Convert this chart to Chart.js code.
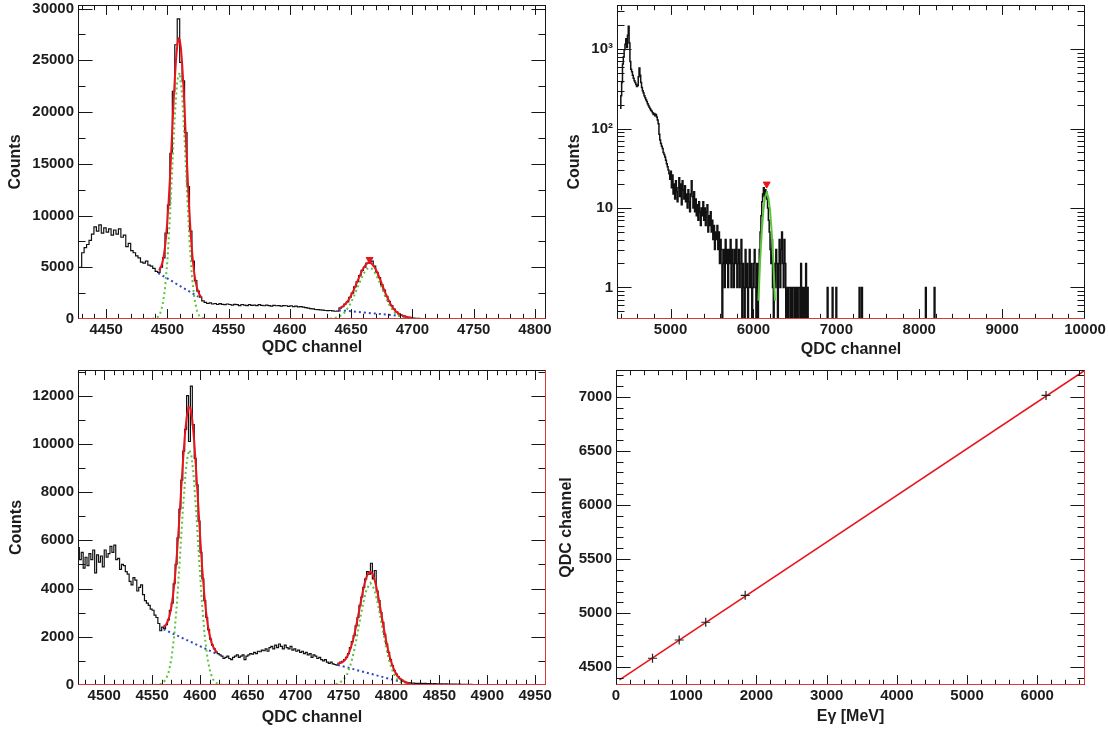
<!DOCTYPE html>
<html><head><meta charset="utf-8">
<script src="https://cdn.jsdelivr.net/npm/chart.js@4.4.1/dist/chart.umd.min.js"></script>
<style>
html,body{margin:0;padding:0;background:#fff;}
#wrap{position:relative;width:1108px;height:731px;overflow:hidden;background:#fff;}
canvas{position:absolute;}
</style></head><body>
<div id="wrap">
<canvas id="c1" width="554" height="360" style="left:0;top:0"></canvas>
<canvas id="c2" width="554" height="360" style="left:554px;top:0"></canvas>
<canvas id="c3" width="554" height="371" style="left:0;top:360px"></canvas>
<canvas id="c4" width="554" height="371" style="left:554px;top:360px"></canvas>
</div>
<script>
// ---------------- Panel 1 (top left) ----------------
const p1Start = 4428, p1BinWidth = 2;
const p1Counts = [
5000,6400,6900,7200,7600,8200,8900,8500,9100,8300,
8800,8400,8700,8100,8600,8200,8700,7900,8100,7000,
7300,6600,6400,6100,5900,5500,5400,5600,5200,5100,
4900,4600,4500,5000,5900,8300,11000,16000,22000,26500,
29000,24800,23000,18000,12800,8500,5600,3700,2700,2100,
1750,1600,1500,1550,1450,1500,1400,1480,1420,1380,
1450,1400,1350,1420,1380,1300,1400,1350,1300,1380,
1320,1350,1300,1380,1320,1280,1350,1300,1250,1320,
1280,1300,1250,1300,1280,1220,1280,1200,1250,1180,
1200,1150,1100,1050,1000,980,920,900,880,850,
820,800,820,780,750,760,1050,1200,1450,1650,
2100,2500,3100,3600,4200,4700,5000,5400,5500,5600,
5100,4500,4000,3300,2800,2200,1700,1300,950,700,
500,380,280,210,160,120,90,70,55,45,
35,
30,28,25,22,24,20,18,20,17,15,16,14,15,12,14,12,11,13,10,12,
10,11,9,10,8,9,10,8,9,7,8,9,7,8,6,7,8,6,7,5,6,7,5,6,5,4,5,6,4,5];
const p1FitAChannel = [4493,4494,4495,4496,4497,4498,4499,4500,4501,4502,4503,4504,4505,4506,4507,4508,4509,4510,4511,4512,4513,4514,4515,4516,4517,4518,4519,4520,4521,4522,4523,4524,4525,4526,4527,4528];
const p1FitA = [4720,4850,5100,5500,6100,6950,8100,9580,11400,13500,15900,18400,20900,23150,25050,26400,27100,27000,26200,24700,22650,20250,17600,15000,12450,10200,8250,6650,5350,4350,3600,3070,2680,2400,2200,2060];
const p1FitBChannel = [4640,4642,4644,4646,4648,4650,4652,4654,4656,4658,4660,4662,4664,4666,4668,4670,4672,4674,4676,4678,4680,4682,4684,4686,4688,4690,4692,4694,4696,4698,4700];
const p1FitB = [1020,1130,1300,1540,1870,2290,2790,3340,3910,4460,4930,5270,5440,5420,5200,4810,4300,3700,3080,2480,1940,1470,1100,800,590,430,320,240,180,140,100];
const p1GausAChannel = [4455,4488,4490,4492,4494,4496,4498,4500,4502,4504,4506,4508,4510,4512,4514,4516,4518,4520,4522,4524,4526,4528,4530,4532,4600];
const p1GausA = [0,15,55,180,520,1310,2900,5670,9750,14760,19660,23060,23800,21630,17300,12190,7550,4120,1980,840,310,100,30,7,0];
const p1GausBChannel = [4600,4630,4635,4640,4644,4648,4652,4656,4660,4663,4665,4667,4670,4674,4678,4682,4686,4690,4695,4700,4760];
const p1GausB = [0,11,55,217,546,1167,2127,3302,4368,4852,4950,4852,4368,3302,2127,1167,546,217,55,11,0];
const p1BkgAChannel = [4492.5, 4525], p1BkgA = [4440, 2160];
const p1BkgBChannel = [4640, 4695], p1BkgB = [850, 250];
const p1PeakChannel = [4665], p1PeakCounts = [5750];
const p1XTicks = [4450,4500,4550,4600,4650,4700,4750,4800];
const p1YTicks = [0,5000,10000,15000,20000,25000,30000];

// ---------------- Panel 2 (top right, log) ----------------
const p2Start = 4390, p2BinWidth = 10;
const p2Counts = [
180,260,380,650,800,980,1150,1350,1050,1500,
1950,1200,700,560,520,470,430,400,380,360,
340,350,450,580,470,380,330,300,280,260,
245,230,220,205,195,185,178,170,165,158,
150,155,145,150,140,128,115,85,72,65,
60,56,50,47,44,40,36,33,30,27,
23,29,18,26,15,20,13,22,16,12,
18,24,14,20,11,22,17,13,19,12,
15,10,17,12,9,15,22,14,10,16,
9,13,8,11,7,12,9,6,10,8,
12,7,10,6,9,11,5,8,6,9,
5,7,4,6,3,5,4,6,3,5,
2,4,3,0,2,3,1,4,2,3,
1,3,2,4,1,3,2,1,3,2,
4,1,2,3,1,2,4,0,2,1,
0,3,1,2,0,1,3,1,2,0,
1,2,3,1,0,2,0,1,3,5,
8,12,15,18,14,17,16,13,10,7,
5,3,2,4,1,0,2,1,3,2,
0,2,4,1,3,5,2,1,4,2,
0,1,0,1,1,0,1,0,1,1,
0,1,0,1,0,1,1,0,2,0,
1,0,1,0,2,0,1,0];
const p2SparseChannel = [6890,6900,6950,6960,6995,7005,7275,7285,7305,7315,8075,8085,8180,8190];
const p2SparseCounts  = [1,0,1,0,1,0,1,0,1,0,1,0,1,0];
const p2FitChannel = [6060,6080,6100,6120,6140,6160,6180,6200,6220,6240,6260];
const p2Fit = [0.68,2.1,5.0,9.4,13.7,15.5,13.7,9.4,5.0,2.1,0.68];
const p2PeakChannel = [6160], p2PeakCounts = [20];
const p2XTicks = [5000,6000,7000,8000,9000,10000];
const p2YTicks = [1,10,100,1000];
const p2YTickLabels = ['1','10','10\u00B2','10\u00B3'];

// ---------------- Panel 3 (bottom left) ----------------
const p3Start = 4472, p3BinWidth = 2;
const p3Counts = [
5700,5200,5500,4850,5300,4950,5450,5200,5600,4650,
5400,5100,5350,4900,5600,5300,5450,5750,5500,5800,
5200,5250,4800,5000,4950,4700,4600,4300,4150,4450,
4350,3900,4050,4150,3750,3500,3400,3300,3150,3100,
2900,2800,2550,2250,2400,2350,2500,2700,3100,3400,
4200,5000,6100,7300,8500,9700,10600,12000,10100,12400,
10800,9400,8300,6800,5500,4400,3500,2800,2300,1900,
1650,1500,1350,1300,1250,1200,1100,1150,1200,1100,
1050,1150,1200,1250,1150,1200,1250,1050,1200,1250,
1300,1280,1350,1300,1400,1380,1450,1420,1500,1400,
1550,1600,1500,1650,1550,1700,1600,1500,1650,1550,
1500,1600,1450,1500,1400,1450,1350,1400,1300,1350,
1250,1300,1150,1250,1200,1100,1150,1050,1000,1050,
950,900,950,880,850,820,900,950,980,1050,
1150,1300,1550,1800,2050,2450,2800,3300,3650,4050,
4400,4700,4600,5050,4400,4750,3900,3500,3000,2600,
2100,1700,1350,1050,800,600,450,350,260,200,
150,120,100,85,80,75,70,70,65,70,
60,65,55,60,55,50,55,50,45,50,
45,40,45,40,40,35,40,35,30,35,
30,25,30,25,20,25,20,20,15,20,
15,15,10,15,10,10,10,8,10,8,
6,8,6,5,6,5,5,4,5,4,
3,4,3,3,2,3,2,2,2,1,
2,1,1,1,1];
const p3FitAChannel = [4562,4564,4566,4568,4570,4572,4574,4576,4578,4580,4582,4584,4586,4588,4590,4592,4594,4596,4598,4600,4602,4604,4606,4608,4610,4612,4614,4616,4618];
const p3FitA = [2420,2480,2610,2840,3210,3770,4520,5490,6640,7890,9150,10260,11090,11530,11490,10980,10080,8890,7570,6240,5010,3970,3140,2520,2070,1770,1570,1430,1340];
const p3FitBChannel = [4744,4746,4748,4750,4752,4754,4756,4758,4760,4762,4764,4766,4768,4770,4772,4774,4776,4778,4780,4782,4784,4786,4788,4790,4792,4794,4796,4798,4800,4802,4804,4806,4808,4810,4812,4814,4816,4818,4820];
const p3FitB = [880,900,930,985,1070,1200,1380,1620,1900,2250,2640,3050,3480,3880,4230,4500,4660,4700,4620,4410,4100,3710,3260,2800,2340,1910,1530,1190,920,700,530,390,300,220,170,120,90,60,35];
const p3GausAChannel = [4511,4555,4560,4564,4567,4570,4573,4576,4579,4582,4585,4587,4589,4591,4593,4596,4599,4602,4605,4608,4611,4614,4618,4623,4700];
const p3GausA = [0,8,54,206,491,1050,2007,3435,5259,7206,8833,9512,9750,9512,8833,7206,5259,3435,2007,1050,491,206,54,8,0];
const p3GausBChannel = [4700,4735,4740,4745,4750,4754,4758,4762,4766,4770,4774,4778,4782,4786,4790,4794,4798,4802,4806,4811,4816,4821,4895];
const p3GausB = [0,4,18,69,218,479,932,1607,2455,3320,3982,4230,3982,3320,2455,1607,932,479,218,69,18,4,0];
const p3BkgAChannel = [4562, 4616], p3BkgA = [2310, 1315];
const p3BkgBChannel = [4744, 4809], p3BkgB = [830, 138];
const p3XTicks = [4500,4550,4600,4650,4700,4750,4800,4850,4900,4950];
const p3YTicks = [0,2000,4000,6000,8000,10000,12000];

// ---------------- Panel 4 (bottom right, calibration) ----------------
const p4Energy = [520, 900, 1278, 1840, 6125];
const p4Channel = [4583, 4752, 4916, 5165, 7012];
const p4LineEnergy = [50, 6680], p4LineChannel = [4383, 7245];
const p4XTicks = [0,1000,2000,3000,4000,5000,6000];
const p4YTicks = [4500,5000,5500,6000,6500,7000];

// ---------------- helpers ----------------
const FONT = "'Liberation Sans', Arial, Helvetica, sans-serif";
const TXT = '#1c1c1c';
const RED = '#e8161c', GREEN = '#5cc43c', BLUE = '#2f47c4';
const pairs = (xs, ys) => xs.map((x, i) => ({x, y: ys[i]}));
const histData = (start, w, counts, logMode) => {
  const f = c => logMode ? (c > 0 ? c : 0.1) : c;
  const pts = counts.map((c, i) => ({x: start + i * w, y: f(c)}));
  pts.push({x: start + counts.length * w, y: f(counts[counts.length - 1])});
  return pts;
};
const steps = (from, to, step, skip) => {
  const out = [];
  for (let v = from; v <= to + 1e-9; v += step) { const r = Math.round(v * 1000) / 1000; if (!skip.includes(r)) out.push(r); }
  return out;
};
const histSet = (data, w) => ({data, showLine: true, stepped: true, borderColor: '#111', borderWidth: w || 1.2, pointRadius: 0, order: 5});
const lineSet = (data, color, width, dash, order) => ({data, showLine: true, borderColor: color, borderWidth: width, borderDash: dash || [], pointRadius: 0, order});
const peakSet = (data) => ({data, showLine: false, pointStyle: 'triangle', rotation: 180, pointRadius: 4, backgroundColor: RED, borderColor: RED, borderWidth: 1, order: 0});

const rootFrame = {
  id: 'rootFrame',
  afterDraw(chart, args, o) {
    const {ctx, chartArea: a} = chart;
    const xs = chart.scales.x, ys = chart.scales.y;
    const L = Math.round(a.left) + 0.5, R = Math.round(a.right) - 0.5, T = Math.round(a.top) + 0.5, B = Math.round(a.bottom) - 0.5;
    ctx.save();
    ctx.strokeStyle = '#161616'; ctx.lineWidth = 1;
    ctx.strokeRect(L, T, R - L, B - T);
    const xMaj = (a.bottom - a.top) * 0.03, yMaj = (a.right - a.left) * 0.03;
    ctx.beginPath();
    const vx = (vals, len) => vals.forEach(v => {
      if (v <= xs.min || v >= xs.max) return;
      const p = Math.round(xs.getPixelForValue(v)) + 0.5;
      ctx.moveTo(p, B); ctx.lineTo(p, B - len); ctx.moveTo(p, T); ctx.lineTo(p, T + len);
    });
    const vy = (vals, len) => vals.forEach(v => {
      if (v <= ys.min || v >= ys.max) return;
      const p = Math.round(ys.getPixelForValue(v)) + 0.5;
      ctx.moveTo(L, p); ctx.lineTo(L + len, p); ctx.moveTo(R, p); ctx.lineTo(R - len, p);
    });
    vx(o.xMajor, xMaj); vx(o.xMinor, xMaj / 2); vy(o.yMajor, yMaj); vy(o.yMinor, yMaj / 2);
    ctx.stroke();
    if (o.red && o.red.length) {
      ctx.strokeStyle = '#d83a3a'; ctx.beginPath();
      o.red.forEach(s => {
        if (s === 'bottom') { ctx.moveTo(L, B); ctx.lineTo(R, B); }
        if (s === 'right') { ctx.moveTo(R, T); ctx.lineTo(R, B); }
      });
      ctx.stroke();
    }
    ctx.restore();
  }
};

function makeChart(id, c) {
  const tickFont = {family: FONT, size: 15, weight: 'bold'};
  const titleFont = {family: FONT, size: 16, weight: 'bold'};
  return new Chart(document.getElementById(id), {
    type: 'scatter',
    data: {datasets: c.datasets},
    options: {
      responsive: false, animation: false, devicePixelRatio: 1,
      layout: {padding: c.padding},
      plugins: {legend: {display: false}, tooltip: {enabled: false}, rootFrame: c.frame},
      scales: {
        x: {
          type: 'linear', position: 'bottom', min: c.xMin, max: c.xMax,
          grid: {display: false, drawTicks: false}, border: {display: false},
          afterBuildTicks: s => { s.ticks = c.xTicks.map(v => ({value: v})); },
          afterFit: s => { s.height = c.xHeight; s.paddingLeft = 0; s.paddingRight = 0; },
          ticks: {font: tickFont, color: TXT, padding: c.xTickPad, maxRotation: 0, minRotation: 0, autoSkip: false,
                  callback: v => String(v)},
          title: {display: true, text: c.xTitle, font: titleFont, color: TXT, padding: {top: 0, bottom: c.xTitlePad}}
        },
        y: {
          type: c.yType || 'linear', position: 'left', min: c.yMin, max: c.yMax,
          grid: {display: false, drawTicks: false}, border: {display: false},
          afterBuildTicks: s => { s.ticks = c.yTicks.map(v => ({value: v})); },
          afterFit: s => { s.width = c.yWidth; s.paddingTop = 0; s.paddingBottom = 0; },
          ticks: {font: tickFont, color: TXT, padding: 4, autoSkip: false,
                  callback: c.yLabel || (v => String(v))},
          title: {display: true, text: c.yTitle, font: titleFont, color: TXT, padding: {top: c.yTitlePad, bottom: 0}}
        }
      }
    },
    plugins: [rootFrame]
  });
}

// Panel 1
makeChart('c1', {
  padding: {left: 0, right: 8, top: 5, bottom: 0}, yWidth: 78, xHeight: 41,
  xMin: 4427, xMax: 4809, yMin: 0, yMax: 30340,
  xTicks: p1XTicks, yTicks: p1YTicks, xTickPad: 2, xTitlePad: 2.4, yTitlePad: 6.4,
  xTitle: 'QDC channel', yTitle: 'Counts',
  frame: {xMajor: p1XTicks, xMinor: steps(4430, 4800, 10, p1XTicks), yMajor: p1YTicks, yMinor: steps(2500, 30000, 5000, []), red: ['bottom']},
  datasets: [
    histSet(histData(p1Start, p1BinWidth, p1Counts)),
    lineSet(pairs(p1BkgAChannel, p1BkgA), BLUE, 2, [2, 3], 3),
    lineSet(pairs(p1BkgBChannel, p1BkgB), BLUE, 2, [2, 3], 3),
    lineSet(pairs(p1GausAChannel, p1GausA), GREEN, 2, [2, 3], 2),
    lineSet(pairs(p1GausBChannel, p1GausB), GREEN, 2, [2, 3], 2),
    lineSet(pairs(p1FitAChannel, p1FitA), RED, 2, null, 1),
    lineSet(pairs(p1FitBChannel, p1FitB), RED, 2, null, 1),
    peakSet(pairs(p1PeakChannel, p1PeakCounts))
  ]
});

// Panel 2
const p2Hist = histData(p2Start, p2BinWidth, p2Counts, true).slice(0, -1)
  .concat(pairs(p2SparseChannel, p2SparseCounts.map(c => c > 0 ? c : 0.1)));
makeChart('c2', {
  padding: {left: 0, right: 23, top: 5, bottom: 0}, yWidth: 63, xHeight: 41,
  xMin: 4354, xMax: 10000, yType: 'logarithmic', yMin: 0.4, yMax: 3600,
  xTicks: p2XTicks, yTicks: p2YTicks, xTickPad: 2, xTitlePad: 0.4, yTitlePad: 11.2,
  yLabel: v => p2YTickLabels[p2YTicks.indexOf(v)] || '',
  xTitle: 'QDC channel', yTitle: 'Counts',
  frame: {xMajor: p2XTicks, xMinor: steps(4400, 10000, 200, p2XTicks), yMajor: p2YTicks,
          yMinor: [0.4,0.5,0.6,0.7,0.8,0.9,2,3,4,5,6,7,8,9,20,30,40,50,60,70,80,90,200,300,400,500,600,700,800,900,2000,3000], red: ['bottom']},
  datasets: [
    histSet(p2Hist, 1.5),
    lineSet(pairs(p2FitChannel, p2Fit), GREEN, 2, null, 1),
    peakSet(pairs(p2PeakChannel, p2PeakCounts))
  ]
});

// Panel 3
makeChart('c3', {
  padding: {left: 0, right: 8, top: 10, bottom: 0}, yWidth: 78, xHeight: 46,
  xMin: 4472.6, xMax: 4961.3, yMin: 0, yMax: 13066,
  xTicks: p3XTicks, yTicks: p3YTicks, xTickPad: 2, xTitlePad: 3.4, yTitlePad: 7.4,
  xTitle: 'QDC channel', yTitle: 'Counts',
  frame: {xMajor: p3XTicks, xMinor: steps(4480, 4960, 10, p3XTicks), yMajor: p3YTicks, yMinor: steps(1000, 13000, 2000, []), red: ['bottom', 'right']},
  datasets: [
    histSet(histData(p3Start, p3BinWidth, p3Counts)),
    lineSet(pairs(p3BkgAChannel, p3BkgA), BLUE, 2, [2, 3], 3),
    lineSet(pairs(p3BkgBChannel, p3BkgB), BLUE, 2, [2, 3], 3),
    lineSet(pairs(p3GausAChannel, p3GausA), GREEN, 2, [2, 3], 2),
    lineSet(pairs(p3GausBChannel, p3GausB), GREEN, 2, [2, 3], 2),
    lineSet(pairs(p3FitAChannel, p3FitA), RED, 2, null, 1),
    lineSet(pairs(p3FitBChannel, p3FitB), RED, 2, null, 1)
  ]
});

// Panel 4
makeChart('c4', {
  padding: {left: 0, right: 23, top: 10, bottom: 0}, yWidth: 62, xHeight: 46,
  xMin: 0, xMax: 6680, yMin: 4336, yMax: 7247,
  xTicks: p4XTicks, yTicks: p4YTicks, xTickPad: 2, xTitlePad: 4.7, yTitlePad: 3.4,
  xTitle: 'E\u03B3 [MeV]', yTitle: 'QDC channel',
  frame: {xMajor: p4XTicks, xMinor: steps(200, 6600, 200, p4XTicks), yMajor: p4YTicks, yMinor: steps(4400, 7200, 100, p4YTicks), red: ['bottom', 'right']},
  datasets: [
    lineSet(pairs(p4LineEnergy, p4LineChannel), RED, 1.6, null, 2),
    {data: pairs(p4Energy, p4Channel), showLine: false, pointStyle: 'cross', pointRadius: 4.5, borderColor: '#222', borderWidth: 1.2, order: 1}
  ]
});
</script>
</body></html>
